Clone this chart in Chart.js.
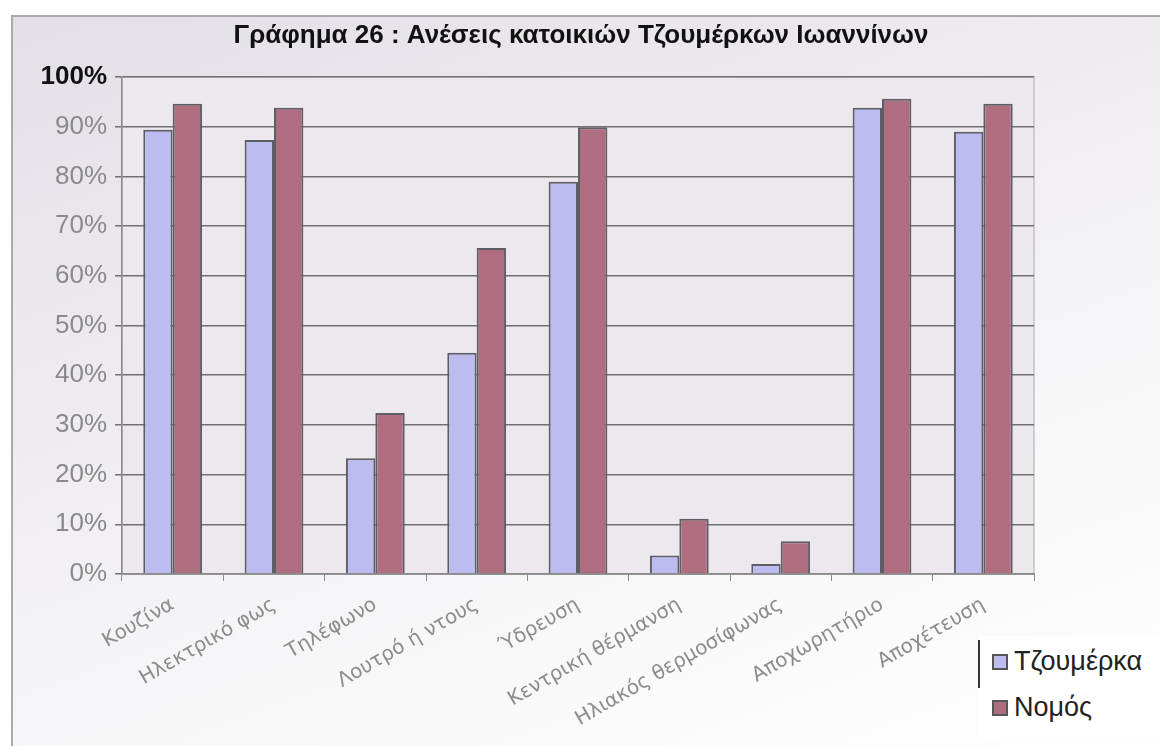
<!DOCTYPE html>
<html>
<head>
<meta charset="utf-8">
<script src="https://cdn.jsdelivr.net/npm/chart.js@4.4.1/dist/chart.umd.min.js"></script>
<style>
    html, body { margin: 0; padding: 0; background: #fff; }
    body { width: 1160px; height: 746px; position: relative; overflow: hidden; }
    .frame {
        position: absolute; left: 11px; top: 15px; width: 1160px; height: 740px;
        border: 2px solid #a9a9ab;
        background: linear-gradient(160deg, #e3dfe6 0%, #eeebf0 35%, #f8f8f9 70%, #ffffff 100%);
    }
    #wrap { position: absolute; left: 0; top: 0; width: 1160px; height: 746px; }
    .legend {
        position: absolute; left: 978px; top: 636px; width: 190px; height: 102px;
        background: #fff;
        font-family: "Liberation Sans", Arial, sans-serif; font-size: 27px; color: #222;
    }
    .legend .bar { position: absolute; left: 0; top: 4px; width: 2px; height: 48px; background: #333; }
    .legend .item { position: absolute; left: 14px; display: flex; align-items: center; }
    .legend .sw { width: 12px; height: 12px; margin-right: 6px; border: 2px solid #555; }
</style>
</head>
<body>
<div class="frame"></div>
<div id="wrap"><canvas id="chart" width="1160" height="746"></canvas></div>
<div class="legend" id="legend"><div class="bar"></div></div>
<script>
// Γράφημα 26
const chartTitle = 'Γράφημα 26 : Ανέσεις κατοικιών Τζουμέρκων Ιωαννίνων';
const categories = ['Κουζίνα', 'Ηλεκτρικό φως', 'Τηλέφωνο', 'Λουτρό ή ντους', 'Ύδρευση',
    'Κεντρική θέρμανση', 'Ηλιακός θερμοσίφωνας', 'Αποχωρητήριο', 'Αποχέτευση'];
const tzoumerka = [89.4, 87.3, 23.3, 44.5, 78.9, 3.7, 2.0, 93.8, 89.0];
const nomos = [94.6, 93.8, 32.4, 65.6, 89.9, 11.1, 6.6, 95.6, 94.6];
const yTicks = [0, 10, 20, 30, 40, 50, 60, 70, 80, 90, 100];

const seriesNames = ['Τζουμέρκα', 'Νομός'];
const seriesColors = ['#bcbcf0', '#ae6e7f'];

// plot area background + title
const plotBg = {
    id: 'plotBg',
    beforeDraw(chart) {
        const { ctx, chartArea: a } = chart;
        ctx.save();
        ctx.fillStyle = '#ece8ee';
        ctx.fillRect(a.left, a.top, a.right - a.left, a.bottom - a.top);
        ctx.strokeStyle = '#c4c2c6';
        ctx.lineWidth = 1.5;
        ctx.strokeRect(a.left, a.top, a.right - a.left, a.bottom - a.top);
        ctx.restore();
    },
    afterDraw(chart) {
        const ctx = chart.ctx;
        ctx.save();
        ctx.font = 'bold 26px "Liberation Sans", Arial, sans-serif';
        ctx.fillStyle = '#111';
        ctx.textAlign = 'center';
        ctx.textBaseline = 'middle';
        ctx.fillText(chartTitle, 581, 36);
        ctx.restore();
    }
};

const chart = new Chart(document.getElementById('chart'), {
    type: 'bar',
    data: {
        labels: categories,
        datasets: [
            {
                label: seriesNames[0],
                data: tzoumerka,
                backgroundColor: seriesColors[0],
                borderColor: '#5e5e66',
                borderWidth: 2,
                barPercentage: 1.0,
                categoryPercentage: 0.58
            },
            {
                label: seriesNames[1],
                data: nomos,
                backgroundColor: seriesColors[1],
                borderColor: '#5e5e66',
                borderWidth: 2,
                barPercentage: 1.0,
                categoryPercentage: 0.58
            }
        ]
    },
    options: {
        responsive: false,
        animation: false,
        layout: { padding: { top: 77, right: 126, left: 0, bottom: 0 } },
        scales: {
            x: {
                afterFit: (s) => { s.height = 172; },
                border: { color: '#8a8a8a', width: 1.5 },
                grid: { display: true, drawOnChartArea: false, tickLength: 7, color: '#8a8a8a', offset: true },
                ticks: {
                    color: '#8c8c8c',
                    font: { family: '"DejaVu Sans", "Liberation Sans", sans-serif', size: 20 },
                    minRotation: 30,
                    maxRotation: 30,
                    padding: 12
                }
            },
            y: {
                min: 0,
                max: 100,
                afterFit: (s) => { s.width = 122; },
                afterBuildTicks: (s) => { s.ticks = yTicks.map(v => ({ value: v })); },
                border: { color: '#8a8a8a', width: 1.5 },
                grid: { color: '#707070', lineWidth: 1.5, tickLength: 7 },
                ticks: {
                    stepSize: 10,
                    padding: 8,
                    color: (c) => c.tick && c.tick.value === 100 ? '#111' : '#8a8a8a',
                    font: (c) => ({
                        family: '"Liberation Sans", Arial, sans-serif',
                        size: 26,
                        weight: c.tick && c.tick.value === 100 ? 'bold' : 'normal'
                    }),
                    callback: (v) => v + '%'
                }
            }
        },
        plugins: {
            legend: { display: false },
            title: { display: false },
            tooltip: { enabled: false }
        }
    },
    plugins: [plotBg]
});

// HTML legend built from the datasets
const legendEl = document.getElementById('legend');
chart.data.datasets.forEach((ds, i) => {
    const item = document.createElement('div');
    item.className = 'item';
    item.style.top = (i === 0 ? 10 : 56) + 'px';
    item.innerHTML = `<span class="sw" style="background:${ds.backgroundColor}"></span><span>${ds.label}</span>`;
    legendEl.appendChild(item);
});
</script>
</body>
</html>
